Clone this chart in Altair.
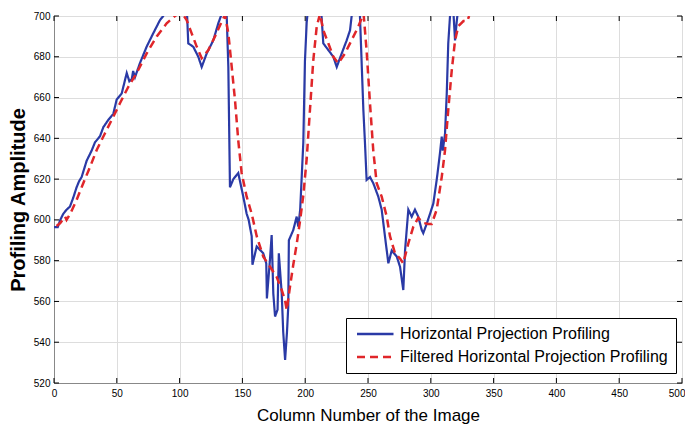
import altair as alt
import pandas as pd

S_RAW = "Horizontal Projection Profiling"
S_FIL = "Filtered Horizontal Projection Profiling"

raw_x = [0, 3, 5, 7.4, 10, 12.7, 15.4, 18, 20, 22, 26, 30, 32.6, 36.6, 39.3, 43.2, 47.2, 49.9,
         53.9, 57.9, 60, 61.9, 63, 64.5, 68.5, 73.8, 79, 84.4, 87, 90, 95, 100, 104, 106,
         106.9, 110.9, 114.9, 117.6, 121.6, 126.8, 130.8, 133.5, 135.5, 137.5, 138.8, 140.1,
         142.8, 146.7, 150.7, 153.4, 155, 157.4, 158, 161.4, 166.6, 169, 169.5, 172, 173.3,
         174.6, 176, 178, 179, 181.3, 182.5, 184, 185.5, 186.5, 187, 190.5, 193.2, 194.5, 196,
         198.5, 199.8, 201.2, 202, 205, 210, 213, 214.4, 218.4, 222.4, 225.1, 229.1, 233,
         235.7, 237, 240, 243.6, 246.3, 247.6, 248.9, 251.6, 254.2, 258.2, 260.9, 263.5,
         266.2, 268.9, 272.9, 275.5, 278.1, 279.5, 280.8, 282.1, 284.8, 287.4, 290, 292.8,
         294, 296.7, 299.4, 302, 304.7, 307.3, 308.7, 309.5, 311.3, 312.7, 313.9, 315.3, 317,
         318, 319.3, 320.6, 321.5, 325, 330]
raw_y = [596.5, 596.5, 600, 603, 605, 606.5, 611, 616, 619, 621, 629, 634, 638, 641, 645.5, 649,
         652, 659, 662, 672, 668, 669, 673, 670, 677, 685, 691.5, 698, 700, 706, 712, 712, 704,
         700, 686.6, 684.9, 680, 675, 681.7, 688, 696.4, 701, 706, 700, 675, 616, 620, 623,
         611.4, 603, 600, 592, 578, 587, 583.6, 578.7, 561.5, 581, 592.6, 564, 552.6, 556,
         583.6, 564, 545, 531.3, 545, 557.4, 590, 595, 601.6, 596.7, 605, 638, 678, 697, 702,
         712, 712, 700, 686.6, 683.3, 680, 675, 681.7, 688, 693, 700, 710, 700, 654, 637.6,
         619.6, 621, 618, 611.4, 605, 592, 578.7, 585, 582, 577, 565.6, 585, 595, 605, 601.6,
         605, 601.6, 595, 593.5, 598, 603, 608, 619.6, 632.7, 640.8, 634, 642, 662, 686.6,
         700, 708, 702, 688, 697, 702, 710, 710]

fil_x = [2, 4.8, 8.8, 10, 13, 18, 23.3, 28.7, 34, 40.6, 47.2, 52.5, 59.2, 65.8, 73.8, 81.8, 89.7,
         96.3, 100, 103, 105.6, 109.6, 113.6, 117.6, 122.9, 128.2, 133.5, 136.1, 138.8, 141.5,
         144.1, 146.7, 149.4, 153.4, 157.4, 161.4, 166.6, 172, 177.3, 181.3, 183.9, 185.3,
         187.9, 190.5, 193.2, 196, 198.5, 201.2, 203.8, 206.4, 209.2, 211.8, 214.4, 218.4,
         222.4, 226.4, 231.7, 237, 242.3, 245, 246.5, 248.9, 251.6, 254.2, 256.9, 260.9, 264.9,
         267.5, 271.5, 275.5, 278.1, 282.1, 286.1, 290, 294, 298, 300.7, 304.7, 308.7, 311.3,
         313.9, 316.7, 319.3, 321.9, 326, 329, 330.5]
fil_y = [597, 598.3, 601.6, 600, 603, 609.8, 618, 626, 634.3, 642.5, 650.6, 657.2, 665.3, 672,
         681.7, 690, 696.4, 700, 701.5, 700.5, 698, 691.5, 685, 679.3, 683.3, 690, 697.2, 700.5,
         691.5, 675, 658.8, 639, 623, 611.4, 603, 592, 582, 577, 572, 565.6, 560.7, 555.8,
         567.3, 578, 588, 600, 612, 630, 654, 678, 695, 701, 693, 686.6, 680, 676.8, 681.7,
         688.2, 694.8, 699, 701, 683, 657, 634, 618, 611.4, 601.6, 592, 583.6, 581, 578.7,
         588.5, 596.7, 601, 598.5, 598, 598, 605, 621, 634, 654, 673.5, 688, 695, 697.5, 697.5,
         700]

x_ticks = [0, 50, 100, 150, 200, 250, 300, 350, 400, 450, 500]
y_ticks = [520, 540, 560, 580, 600, 620, 640, 660, 680, 700]

W, H = 628, 367
BLUE = "#2a3aa6"
RED = "#e0262a"
FONT = "Liberation Sans"

df = pd.concat([
    pd.DataFrame({"x": raw_x, "y": raw_y, "series": S_RAW, "o": range(len(raw_x))}),
    pd.DataFrame({"x": fil_x, "y": fil_y, "series": S_FIL, "o": range(len(fil_x))}),
])

xscale = alt.Scale(domain=[0, 500], nice=False, zero=False)
yscale = alt.Scale(domain=[520, 700], nice=False, zero=False)

xaxis = alt.Axis(values=x_ticks, title="Column Number of the Image", grid=True,
                 ticks=False, labelPadding=5, titleFontSize=17, titleFontWeight="normal",
                 titleY=37, titleBaseline="alphabetic", labelFlush=False,
                 labelAlign={"expr": "datum.value >= 500 ? 'right' : 'center'"},
                 labelOffset={"expr": "datum.value >= 500 ? 3 : 0"})
yaxis = alt.Axis(values=y_ticks, title="Profiling Amplitude", grid=True,
                 ticks=False, labelPadding=4, titleFontSize=20, titleFontWeight="bold",
                 titleX=-36, titleBaseline="middle")

color = alt.Color("series:N", scale=alt.Scale(domain=[S_RAW, S_FIL], range=[BLUE, RED]),
                  legend=alt.Legend(title=None, orient="none", legendX=292, legendY=302,
                                    symbolType="M-1,0H6.3", symbolSize=100,
                                    symbolStrokeWidth=2.5, labelOffset=30,
                                    labelFontSize=16, labelFont=FONT, labelColor="#000",
                                    fillColor="white", strokeColor="black", padding=8,
                                    rowPadding=7, labelLimit=400))
dash = alt.StrokeDash("series:N", scale=alt.Scale(domain=[S_RAW, S_FIL], range=[[1, 0], [8, 5]]),
                      legend=None)

base = alt.Chart(df)
raw_line = base.transform_filter(alt.datum.series == S_RAW).mark_line(clip=True, strokeWidth=2.2).encode(
    x=alt.X("x:Q", scale=xscale, axis=xaxis),
    y=alt.Y("y:Q", scale=yscale, axis=yaxis),
    order="o:Q", color=color, strokeDash=dash)
fil_line = base.transform_filter(alt.datum.series == S_FIL).mark_line(clip=True, strokeWidth=2.5).encode(
    x=alt.X("x:Q", scale=xscale), y=alt.Y("y:Q", scale=yscale),
    order="o:Q", color=color, strokeDash=dash)

xt = pd.DataFrame({"t": x_ticks})
yt = pd.DataFrame({"t": y_ticks})
tick_style = dict(color="black", strokeWidth=1)
xb = alt.Chart(xt).mark_rule(**tick_style).encode(x=alt.X("t:Q", scale=xscale), y=alt.value(H), y2=alt.value(H - 5))
xtp = alt.Chart(xt).mark_rule(**tick_style).encode(x=alt.X("t:Q", scale=xscale), y=alt.value(0), y2=alt.value(5))
yl = alt.Chart(yt).mark_rule(**tick_style).encode(y=alt.Y("t:Q", scale=yscale), x=alt.value(0), x2=alt.value(5))
yr = alt.Chart(yt).mark_rule(**tick_style).encode(y=alt.Y("t:Q", scale=yscale), x=alt.value(W), x2=alt.value(W - 5))

chart = alt.layer(xb, xtp, yl, yr, raw_line, fil_line).properties(
    width=W, height=H,
    autosize=alt.AutoSizeParams(type="none"),
    padding={"left": 46, "top": 8, "right": 3, "bottom": 41},
).configure_view(stroke="black", strokeWidth=1).configure_axis(
    labelFont=FONT, titleFont=FONT, labelFontSize=13, labelColor="#333", titleColor="#000",
    gridColor="#000", gridDash=[1, 3], gridOpacity=1, gridWidth=1, domain=False,
).configure(background="white")

chart.save("out.html", embed_options={"renderer": "svg", "actions": False})
